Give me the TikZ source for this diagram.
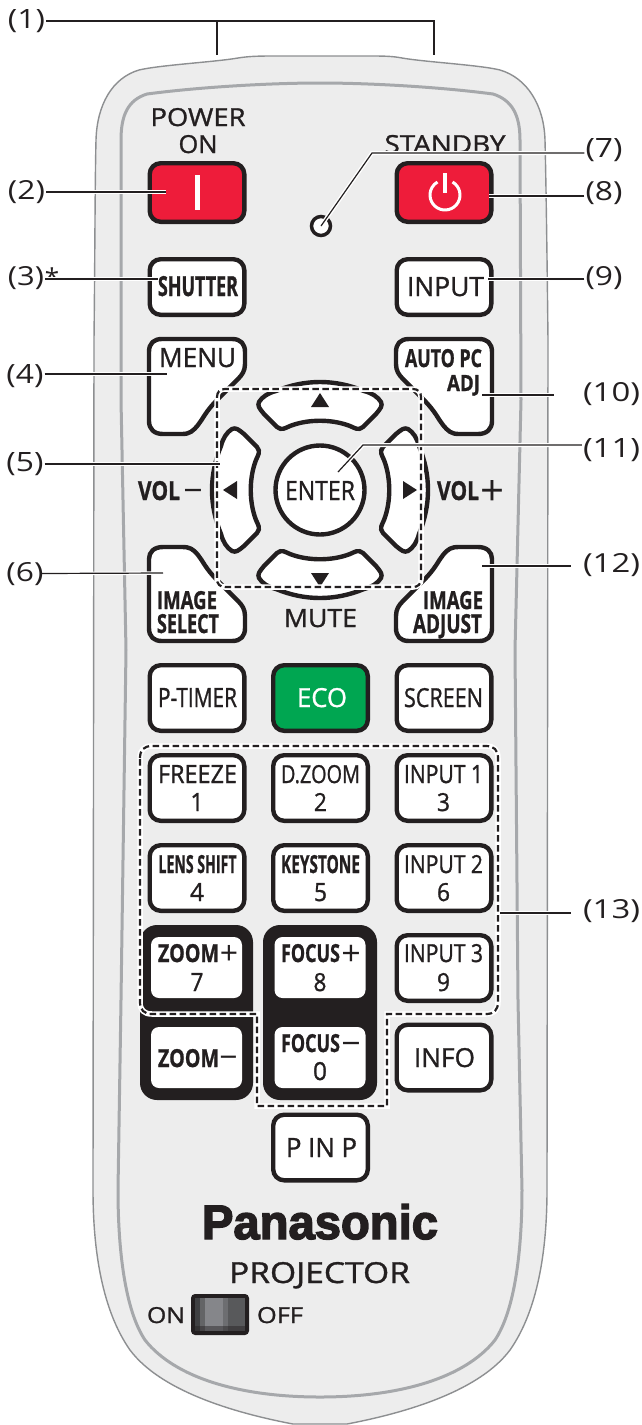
\documentclass[tikz,border=0pt]{standalone}
\usepackage{fontspec}
\usepackage{graphicx}
\setmainfont[FakeBold=1.1]{Open Sans}
\newfontfamily\labfont{Open Sans}
\newfontfamily\panfont[FakeBold=3]{Liberation Sans Bold}
\definecolor{ink}{HTML}{231F20}
\definecolor{body}{HTML}{EDEDED}
\definecolor{rim}{HTML}{A6A8AB}
\definecolor{redb}{HTML}{EE1C3A}
\definecolor{greenb}{HTML}{00A651}
\definecolor{sw1}{HTML}{58595B}
\definecolor{sw2}{HTML}{3F4042}
\definecolor{sw3}{HTML}{636466}
\definecolor{sw4}{HTML}{85868A}
\definecolor{sw5}{HTML}{6D6E71}
\newcommand\Fit[3]{\resizebox{#1pt}{#2pt}{#3}}
\newcommand\Lf[3]{\resizebox{#1pt}{#2pt}{\labfont #3}}
\tikzset{
  txt/.style={anchor=base,inner sep=0pt,text=ink},
  lab/.style={anchor=base,inner sep=1pt,text=ink},
  sign/.style={anchor=base,inner sep=0pt,text=ink,font=\labfont\fontsize{#1}{#1}\selectfont},
  btn/.style={draw=ink,line width=4.4pt,rounded corners=11pt,fill=white,minimum width=94.6pt,minimum height=65.6pt,inner sep=0pt},
  btnlow/.style={btn,minimum height=58.6pt},
  inbtn/.style={fill=white,rounded corners=8pt,minimum width=91pt,inner sep=0pt},
  blk/.style={fill=ink,rounded corners=17pt,minimum width=113pt,minimum height=175pt,inner sep=0pt},
  key/.style={draw=ink,line width=4.4pt,fill=white,line join=round},
  leader/.style={draw=ink,line width=1.2pt,preaction={draw=white,line width=4pt}},
  dashbox/.style={draw=ink,line width=2.2pt,dash pattern=on 6.5pt off 3.5pt,preaction={draw=white,line width=5.5pt,solid}},
}
\begin{document}
\begin{tikzpicture}[x=1pt,y=-1pt]
\useasboundingbox (0,0) rectangle (641,1425);
% body
\draw[fill=body,draw=rim!85!black,line width=1.4pt] (94,340) .. controls (95,250) and (95,180) .. (96,140) .. controls (97,105) and (112,78) .. (139,70) .. controls (160,65) and (215,62) .. (238,58) .. controls (250,56) and (262,56) .. (275,56) -- (369,56) .. controls (382,56) and (392,56) .. (402,58) .. controls (425,62) and (480,65) .. (500,70) .. controls (527,78) and (544,105) .. (545,140) .. controls (546,180) and (547,250) .. (548,340) -- (547,1190) .. controls (547,1250) and (538,1310) .. (510,1350) .. controls (480,1390) and (410,1412) .. (347,1424) -- (293,1424) .. controls (230,1412) and (160,1390) .. (130,1350) .. controls (102,1310) and (93,1250) .. (93,1190) -- cycle;
\draw[draw=rim,line width=3pt] (121,400) -- (121,140) .. controls (121,115) and (128,100) .. (147,94) .. controls (200,87) and (270,83) .. (320,83) .. controls (370,83) and (440,87) .. (493,94) .. controls (512,100) and (520,115) .. (520,140) -- (521,400) -- (515,650) -- (518,1000) -- (522,1190) .. controls (522,1250) and (515,1310) .. (495,1340) .. controls (465,1378) and (400,1397) .. (320,1397) .. controls (240,1397) and (175,1378) .. (145,1340) .. controls (125,1310) and (118,1250) .. (118,1190) -- (121,1000) -- (126,650) -- cycle;
% printed texts on the body
\node[txt] (power) at (198,126) {\Fit{95}{18}{POWER}};
\node[txt] (on) at (198,153) {\Fit{39}{18}{ON}};
\node[txt] (standby) at (445,153) {\Fit{121}{18}{STANDBY}};
\fill[body] (380,150.5) rectangle (510,160);
\node[txt] (volm) at (159,500) {\Fit{42}{19}{\bfseries VOL}};
\node[txt] (volp) at (458,500) {\Fit{42}{19}{\bfseries VOL}};
\node[sign=34] (volmm) at (193,502) {−};
\node[sign=42] (volpp) at (493,505) {+};
\node[txt] (mute) at (320.5,627) {\Fit{73}{18}{MUTE}};
% top buttons
\node[btn,btnlow,fill=redb] (bon) at (197,192.5) {};
\node[btn,btnlow,fill=redb] (boff) at (444,192.5) {};
\fill[white] (195,175) rectangle (200,210);
\draw[white,line width=3pt] (452.5,182) arc[start angle=-60,end angle=240,radius=15];
\draw[white,line width=4pt] (445,173) -- (445,193);
\node[draw=ink,line width=3.5pt,fill=white,circle,minimum size=19pt,inner sep=0pt] (led) at (321,226) {};
\node[btn,minimum height=55.6pt] (bshut) at (197,287) {};
\node[txt] (tshut) at (198,296) {\Fit{80}{20}{\bfseries SHUTTER}};
\node[btn,minimum height=55.6pt] (binput) at (444,287) {};
\node[txt] (tinput) at (445.5,296) {\Fit{77}{19}{INPUT}};
% pentagon keys
\draw[key] (149,352) .. controls (149,343) and (154,339) .. (162,339) -- (232,339) .. controls (241,339) and (245,344) .. (245,352) -- (245,364) .. controls (245,371) and (242,375) .. (238,379) -- (218,399) .. controls (205,412) and (203,419) .. (198,425) .. controls (193,431) and (190,434) .. (182,434) -- (163,434) .. controls (154,434) and (149,429) .. (149,421) -- cycle;
\draw[key] (492,352) .. controls (492,343) and (487,339) .. (479,339) -- (409,339) .. controls (400,339) and (396,344) .. (396,352) -- (396,364) .. controls (396,371) and (399,375) .. (403,379) -- (423,399) .. controls (436,412) and (438,419) .. (443,425) .. controls (448,431) and (451,434) .. (459,434) -- (478,434) .. controls (487,434) and (492,429) .. (492,421) -- cycle;
\draw[key] (149,628) .. controls (149,637) and (154,641) .. (162,641) -- (232,641) .. controls (241,641) and (245,636) .. (245,628) -- (245,616) .. controls (245,609) and (242,605) .. (238,601) -- (218,581) .. controls (205,568) and (203,561) .. (198,555) .. controls (193,549) and (190,547) .. (182,547) -- (163,547) .. controls (154,547) and (149,552) .. (149,559) -- cycle;
\draw[key] (492,628) .. controls (492,637) and (487,641) .. (479,641) -- (409,641) .. controls (400,641) and (396,636) .. (396,628) -- (396,616) .. controls (396,609) and (399,605) .. (403,601) -- (423,581) .. controls (436,568) and (438,561) .. (443,555) .. controls (448,549) and (451,547) .. (459,547) -- (478,547) .. controls (487,547) and (492,552) .. (492,559) -- cycle;
\node[txt] (tmenu) at (197.5,367) {\Fit{77}{19}{MENU}};
\node[txt] (tauto) at (443.5,367) {\Fit{77}{18}{\bfseries AUTO PC}};
\node[txt] (tadj) at (463.5,391) {\Fit{33}{16}{\bfseries ADJ}};
\node[txt] (timg) at (187,609) {\Fit{60}{18}{\bfseries IMAGE}};
\node[txt] (tsel) at (188,633) {\Fit{62}{19}{\bfseries SELECT}};
\node[txt] (timr) at (453,609) {\Fit{60}{18}{\bfseries IMAGE}};
\node[txt] (tadjust) at (447.5,633) {\Fit{69}{19}{\bfseries ADJUST}};
% ring keys
\foreach \a in {0,90,180,270}{
 \begin{scope}[shift={(320,490)},rotate=\a]
  \draw[key] (-44,-99) .. controls (-15,-111) and (15,-111) .. (44,-99) .. controls (52,-97) and (58,-93) .. (61,-88) .. controls (63,-84) and (60,-81) .. (56,-76) -- (43,-63) .. controls (38,-59) and (35,-62) .. (30,-64) .. controls (12,-71) and (-12,-71) .. (-30,-64) .. controls (-35,-62) and (-38,-59) .. (-43,-63) -- (-56,-76) .. controls (-60,-81) and (-63,-84) .. (-61,-88) .. controls (-58,-93) and (-52,-97) .. (-44,-99) -- cycle;
  \fill[ink] (0,-97) -- (9,-83) -- (-9,-83) -- cycle;
 \end{scope}}
\node[draw=ink,line width=4.4pt,fill=white,circle,minimum size=89pt,inner sep=0pt] (enter) at (320,490) {};
\node[txt] (tenter) at (320,500) {\Fit{70}{19}{ENTER}};
% rectangular keys
\node[btn] (b1) at (197,698) {};
\node[btn,fill=greenb] (b2) at (320.5,698) {};
\node[btn] (b3) at (444,698) {};
\node[txt] (t1) at (197.5,707) {\Fit{79}{19}{P-TIMER}};
\node[txt,text=white] (t2) at (322,707) {\Fit{50}{19}{ECO}};
\node[txt] (t3) at (443.5,707) {\Fit{79}{19}{SCREEN}};
\node[btn] (b4) at (197,788) {};
\node[btn] (b5) at (320.5,788) {};
\node[btn] (b6) at (444,788) {};
\node[txt] (t4) at (197.5,783) {\Fit{79}{18}{FREEZE}};
\node[txt] (t5) at (320.5,783) {\Fit{79}{18}{D.ZOOM}};
\node[txt] (t6) at (443.5,783) {\Fit{79}{18}{INPUT 1}};
\node[txt] (n1) at (197,811) {\Fit{13}{18}{1}};
\node[txt] (n2) at (320.5,811) {\Fit{13}{18}{2}};
\node[txt] (n3) at (443.5,811) {\Fit{13}{18}{3}};
\node[btn] (b7) at (197,878) {};
\node[btn] (b8) at (320.5,878) {};
\node[btn] (b9) at (444,878) {};
\node[txt] (t7) at (197.5,873) {\Fit{78}{18}{\bfseries LENS SHIFT}};
\node[txt] (t8) at (320.5,873) {\Fit{79}{18}{\bfseries KEYSTONE}};
\node[txt] (t9) at (443.5,873) {\Fit{79}{18}{INPUT 2}};
\node[txt] (n4) at (197,901) {\Fit{14}{18}{4}};
\node[txt] (n5) at (320.5,901) {\Fit{13}{18}{5}};
\node[txt] (n6) at (443.5,901) {\Fit{13}{18}{6}};
% black blocks
\node[blk] (zblk) at (196.5,1012.5) {};
\node[blk,minimum width=114pt] (fblk) at (320,1012.5) {};
\node[inbtn,minimum height=61pt] (z1) at (196.5,967.5) {};
\node[inbtn,minimum height=61pt] (z2) at (196.5,1057.5) {};
\node[inbtn,minimum height=61pt] (f1) at (320,967.5) {};
\node[inbtn,minimum height=61pt] (f2) at (320,1057.5) {};
\node[txt] (tz1) at (188.5,962) {\Fit{61}{18}{\bfseries ZOOM}};
\node[sign=32] (pz1) at (229,964) {+};
\node[txt] (nz1) at (197,991) {\Fit{13}{18}{7}};
\node[txt] (tz2) at (188.5,1067) {\Fit{61}{18}{\bfseries ZOOM}};
\node[sign=32] (mz2) at (228.5,1068) {−};
\node[txt] (tf1) at (310.5,962) {\Fit{59}{18}{\bfseries FOCUS}};
\node[sign=34] (pf1) at (351,965) {+};
\node[txt] (nf1) at (320,991) {\Fit{13}{18}{8}};
\node[txt] (tf2) at (310.5,1052) {\Fit{59}{18}{\bfseries FOCUS}};
\node[sign=34] (mf2) at (351,1055) {−};
\node[txt] (nf2) at (320,1080) {\Fit{14}{18}{0}};
\node[btn] (b10) at (444,968) {};
\node[txt] (t10) at (443.5,962) {\Fit{79}{18}{INPUT 3}};
\node[txt] (n9) at (443.5,991) {\Fit{13}{18}{9}};
\node[btn] (b11) at (444,1057.5) {};
\node[txt] (t11) at (444.5,1067) {\Fit{61}{19}{INFO}};
\node[btn] (b12) at (320.5,1147.5) {};
\node[txt] (t12) at (321.5,1157) {\Fit{71}{19}{P IN P}};
% dashed groups
\draw[dashbox] (217,397) .. controls (217,392) and (220,389) .. (225,389) -- (413,389) .. controls (418,389) and (421,392) .. (421,397) -- (421,579) .. controls (421,584) and (418,587) .. (413,587) -- (225,587) .. controls (220,587) and (217,584) .. (217,579) -- cycle;
\draw[dashbox] (140,758) .. controls (140,750) and (144,746) .. (152,746) -- (486,746) .. controls (494,746) and (498,750) .. (498,758) -- (498,1002) .. controls (498,1010) and (494,1014) .. (486,1014) -- (387,1014) -- (387,1106) -- (257,1106) -- (257,1014) -- (152,1014) .. controls (144,1014) and (140,1010) .. (140,1002) -- cycle;
% logo and switch
\node[txt] (logo) at (320,1239) {\Fit{236}{35}{\panfont Panasonic}};
\node[txt] (proj) at (319.5,1283) {\Fit{181}{21}{PROJECTOR}};
\node[txt] (son) at (166,1323) {\Fit{38}{16}{ON}};
\node[txt] (soff) at (280,1323) {\Fit{46}{16}{OFF}};
\fill[ink,rounded corners=4pt] (191,1294) rectangle (249,1335);
\fill[sw1] (195,1298) rectangle (245,1331);
\fill[sw2] (195,1298) rectangle (200,1331);
\fill[sw3] (200,1298) rectangle (205,1331);
\fill[sw4] (205,1298) rectangle (223,1331);
\fill[sw5] (223,1298) rectangle (228,1331);
\fill[ink,opacity=.45] (195,1326) rectangle (245,1331);
% callout labels
\node[lab] (l1) at (26.5,28) {\Lf{37}{19}{(1)}};
\node[lab] (l2) at (26.5,199) {\Lf{37}{19}{(2)}};
\node[lab] (l3) at (26,285) {\Lf{36}{19}{(3)}};
\node[sign=26] (star) at (52,287) {*};
\node[lab] (l4) at (25,383) {\Lf{37}{19}{(4)}};
\node[lab] (l5) at (25,471) {\Lf{37}{19}{(5)}};
\node[lab] (l6) at (25,581) {\Lf{37}{19}{(6)}};
\node[lab] (l7) at (604,157) {\Lf{37}{19}{(7)}};
\node[lab] (l8) at (604,200) {\Lf{37}{19}{(8)}};
\node[lab] (l9) at (604,285) {\Lf{37}{19}{(9)}};
\node[lab] (l10) at (611.5,401) {\Lf{57}{19}{(10)}};
\node[lab] (l11) at (611.5,457) {\Lf{57}{19}{(11)}};
\node[lab] (l12) at (611.5,572) {\Lf{57}{19}{(12)}};
\node[lab] (l13) at (611.5,918) {\Lf{57}{19}{(13)}};
% leaders
\coordinate (e1a) at (217,55); \coordinate (e1b) at (434,55);
\draw[ink,line width=1.8pt] (l1.east |- 0,21) -- (434,21) -- (e1b);
\draw[ink,line width=1.8pt] (e1a) -- (217,21);
\coordinate (e2) at (166,192); \coordinate (e3) at (158,279); \coordinate (e4) at (167,374);
\coordinate (e5) at (220,464); \coordinate (e6) at (163,573); \coordinate (e8) at (489,196);
\coordinate (e9) at (488,279); \coordinate (e10) at (482,395); \coordinate (e12) at (482,566); \coordinate (e13) at (500,913);
\coordinate (k7) at (372,153); \coordinate (k11) at (363,445);
\draw[leader] (l2.east |- e2) -- (e2);
\draw[leader] (l3.east |- e3) -- (e3);
\draw[leader] (l4.east |- e4) -- (e4);
\draw[leader] (l5.east |- e5) -- (e5);
\draw[draw=white,line width=3.5pt] (90,573.5) -- (e6);
\draw[draw=ink,line width=1.2pt] (l6.east |- 0,573.5) ++(-4,0) -- (e6);
\draw[leader] (l7.west |- k7) -- (k7) -- (led.center);
\draw[leader] (l8.west |- e8) -- (e8);
\draw[leader] (l9.west |- e9) -- (e9);
\draw[leader] (l10.west |- e10) ++(-28,0) -- (e10);
\draw[leader] (l11.west |- k11) -- (k11) -- (338,472);
\draw[leader] (l12.west |- e12) ++(-11,0) -- (e12);
\draw[leader] (l13.west |- e13) ++(-11,0) -- (e13);
\end{tikzpicture}
\end{document}
